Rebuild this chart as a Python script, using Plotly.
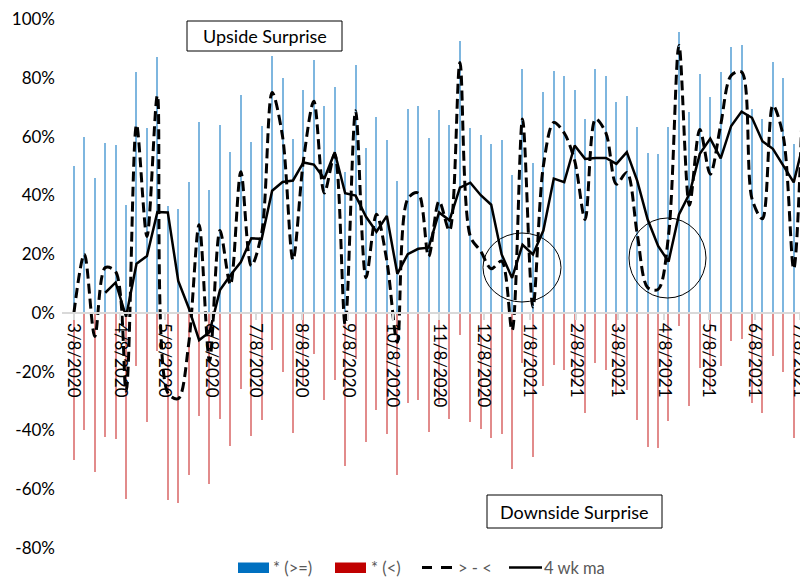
import pandas as pd
import plotly.graph_objects as go

# ---------------- data ----------------
week_start = "2020-03-08"
n_weeks = 71
weeks = pd.date_range(week_start, periods=n_weeks, freq="7D")

upside = [50, 60, 46, 57.7, 57, 36.7, 82, 63, 87, 36.4,
          35.4, 44.7, 65, 41.8, 64, 54.8, 74, 58, 63.6, 87.5,
          80, 59, 75.9, 86, 70.4, 77, 48, 84.4, 56, 66.8,
          58.8, 45, 69.4, 70.4, 59.6, 69, 64, 92.6, 63, 60.5,
          57.5, 58.8, 47, 83, 51, 75, 82.4, 80.6, 75.9, 65.9,
          83, 80.6, 71.9, 73.9, 63.4, 54.3, 54, 63.2, 95.5, 68.3,
          81.2, 73.6, 82, 90.4, 91, 69.4, 66, 85.3, 80, 57.5,
          95]

downside = [-50, -40, -54, -42.3, -43, -63.3, -18, -37, -13, -63.6,
            -64.6, -55.3, -35, -58.2, -36, -45.2, -26, -42, -36.4, -12.5,
            -20, -41, -24.1, -14, -29.6, -23, -52, -15.6, -44, -33.2,
            -41.2, -55, -30.6, -29.6, -40.4, -31, -36, -7.4, -37, -39.5,
            -42.5, -41.2, -53, -17, -49, -25, -17.6, -19.4, -24.1, -34.1,
            -17, -19.4, -28.1, -26.1, -36.6, -45.7, -46, -36.8, -4.5, -31.7,
            -18.8, -26.4, -18, -9.6, -9, -30.6, -34, -14.7, -20, -42.5,
            -5]

net = [0, 20, -8, 15.4, 14, -26.6, 64, 26, 74, -27.2,
       -29.2, -10.6, 30, -16.4, 28, 9.6, 48, 16, 27.2, 75,
       60, 18, 51.8, 72, 40.8, 54, -4, 68.8, 12, 33.6,
       17.6, -10, 38.8, 40.8, 19.2, 38, 28, 85.2, 26, 21,
       15, 17.6, -6, 66, 2, 50, 64.8, 61.2, 51.8, 31.8,
       66, 61.2, 43.8, 47.8, 26.8, 8.6, 8, 26.4, 91, 36.6,
       62.4, 47.2, 64, 80.8, 82, 38.8, 32, 70.6, 60, 15,
       90]

ma4 = [None, None, None, 6.85, 10.35, -1.3, 16.7, 19.35, 34.35, 34.2,
       10.9, 1.75, -9.25, -6.55, 7.75, 12.8, 17.3, 25.4, 25.2, 41.55,
       44.55, 45.05, 51.2, 50.45, 45.65, 54.65, 40.7, 39.9, 32.7, 27.6,
       33, 13.3, 20, 21.8, 22.2, 34.2, 31.5, 42.6, 44.3, 40.05,
       36.8, 19.9, 11.9, 23.15, 19.9, 28, 45.7, 44.5, 56.95, 52.4,
       52.7, 52.7, 50.7, 54.7, 44.9, 31.75, 22.8, 17.45, 33.5, 40.5,
       54.1, 59.3, 52.55, 63.6, 68.5, 66.4, 58.4, 55.85, 50.35, 44.4,
       58.9]

tick_labels = ["3/8/2020", "4/8/2020", "5/8/2020", "6/8/2020", "7/8/2020",
               "8/8/2020", "9/8/2020", "10/8/2020", "11/8/2020", "12/8/2020",
               "1/8/2021", "2/8/2021", "3/8/2021", "4/8/2021", "5/8/2021",
               "6/8/2021", "7/8/2021"]
tick_dates = [pd.to_datetime(s, format="%m/%d/%Y") for s in tick_labels]

y_ticks = list(range(-80, 101, 20))
y_tick_text = [f"{v}%" for v in y_ticks]

legend_names = ["* (>=)", "* (<)", "> - <", "4 wk ma"]

# ---------------- layout geometry ----------------
W, H = 800, 577
L, R, T, B = 62, 0, 19, 29
PW, PH = W - L - R, H - T - B


def px_x(px):
    return (px - L) / PW


def px_y(py):
    return (H - B - py) / PH


BLUE = "#0070C0"
RED = "#C00000"
FONT = "Lato"
DAY_MS = 86400000

fig = go.Figure()
fig.add_trace(go.Bar(x=weeks, y=upside, name=legend_names[0],
                     marker=dict(color=BLUE, line=dict(width=0)),
                     opacity=0.5, width=0.75 * DAY_MS))
fig.add_trace(go.Bar(x=weeks, y=downside, name=legend_names[1],
                     marker=dict(color=RED, line=dict(width=0)),
                     opacity=0.45, width=0.75 * DAY_MS))
fig.add_trace(go.Scatter(x=weeks, y=net, name=legend_names[2], mode="lines",
                         line=dict(color="black", width=3, dash="10px,5px",
                                   shape="spline", smoothing=0.9)))
fig.add_trace(go.Scatter(x=weeks, y=ma4, name=legend_names[3], mode="lines",
                         line=dict(color="black", width=2.5)))

shapes = []
annotations = []

# text boxes
for (x0, y0, x1, y1, txt) in [(187, 21, 342, 51, "Upside Surprise"),
                              (487, 495, 662, 528, "Downside Surprise")]:
    shapes.append(dict(type="rect", xref="paper", yref="paper",
                       x0=px_x(x0), x1=px_x(x1), y0=px_y(y1), y1=px_y(y0),
                       line=dict(color="black", width=1), fillcolor="white",
                       layer="above"))
    annotations.append(dict(xref="paper", yref="paper",
                            x=px_x((x0 + x1) / 2), y=px_y((y0 + y1) / 2),
                            text=txt, showarrow=False, xanchor="center",
                            yanchor="middle",
                            font=dict(family=FONT, size=18, color="black")))

# circles
for (x0, y0, x1, y1) in [(483, 233, 561, 302), (629, 218, 706, 298)]:
    shapes.append(dict(type="circle", xref="paper", yref="paper",
                       x0=px_x(x0), x1=px_x(x1), y0=px_y(y1), y1=px_y(y0),
                       line=dict(color="black", width=1)))

# custom legend
LY = 567.5
shapes.append(dict(type="rect", xref="paper", yref="paper",
                   x0=px_x(238), x1=px_x(269), y0=px_y(573), y1=px_y(562.5),
                   line=dict(width=0), fillcolor=BLUE))
shapes.append(dict(type="rect", xref="paper", yref="paper",
                   x0=px_x(335), x1=px_x(366), y0=px_y(573), y1=px_y(562.5),
                   line=dict(width=0), fillcolor=RED))
for (a, b) in [(422, 432), (441, 452)]:
    shapes.append(dict(type="line", xref="paper", yref="paper",
                       x0=px_x(a), x1=px_x(b), y0=px_y(LY), y1=px_y(LY),
                       line=dict(color="black", width=3)))
shapes.append(dict(type="line", xref="paper", yref="paper",
                   x0=px_x(509), x1=px_x(542), y0=px_y(LY), y1=px_y(LY),
                   line=dict(color="black", width=2.5)))
for (xp, txt) in [(272, legend_names[0]), (370, legend_names[1]),
                  (457, legend_names[2]), (543, legend_names[3])]:
    annotations.append(dict(xref="paper", yref="paper", x=px_x(xp),
                            y=px_y(LY), text=txt, showarrow=False,
                            xanchor="left", yanchor="middle", borderpad=0,
                            font=dict(family=FONT, size=16.5, color="#595959")))

fig.update_layout(
    width=W, height=H,
    margin=dict(l=L, r=R, t=T, b=B, pad=0, autoexpand=False),
    paper_bgcolor="white", plot_bgcolor="white",
    barmode="overlay", bargap=0,
    showlegend=False,
    font=dict(family=FONT, size=17, color="black"),
    xaxis=dict(type="date", automargin=False,
               range=["2020-02-29", "2021-07-08 05:00"],
               tickmode="array", tickvals=tick_dates, ticktext=tick_labels,
               tickangle=90, tickfont=dict(family=FONT, size=17, color="black"),
               ticklabeloverflow="allow",
               showgrid=False, zeroline=False,
               showline=True, linecolor="#D9D9D9", linewidth=1.5,
               ticks="outside", ticklen=6, tickcolor="#D9D9D9", tickwidth=1.5,
               anchor="free", position=80 / 180, layer="above traces"),
    yaxis=dict(range=[-80, 100], tickmode="array", tickvals=y_ticks,
               automargin=False,
               ticktext=y_tick_text, showgrid=False, zeroline=False,
               showline=False, ticks="", ticklabelstandoff=6,
               tickfont=dict(family=FONT, size=17, color="black")),
    shapes=shapes, annotations=annotations,
)

fig.write_html("out.html",
               config={"displayModeBar": False},
               post_script="document.body.style.margin='0';"
                           "document.body.style.overflow='hidden';")
